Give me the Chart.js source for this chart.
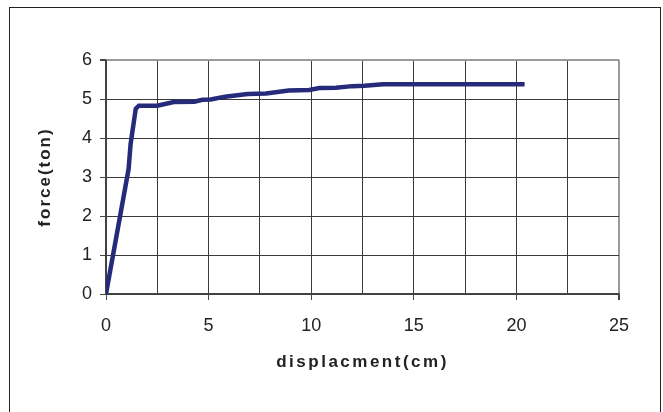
<!DOCTYPE html>
<html>
<head>
<meta charset="utf-8">
<script src="https://cdn.jsdelivr.net/npm/chart.js@4/dist/chart.umd.min.js"></script>
<style>
  html, body { margin: 0; padding: 0; background: #fff; overflow: hidden; }
  #frame { position: absolute; left: 9px; top: 7px; width: 650px; height: 430px; border: 1.5px solid #222; }
  #summaryChart { position: absolute; left: 0; top: 0; }
</style>
</head>
<body>
<div id="frame"></div>
<canvas id="summaryChart" width="663" height="412"></canvas>
<script>
// datos
const dispCm = [0, 1.1, 1.2, 1.45, 1.6, 2.5, 3.3, 4.3, 4.7, 5.1, 5.8, 6.9, 7.8, 8.9, 9.9, 10.4, 11.2, 12.0, 12.6, 13.5, 20.4];
const forceTon = [0, 3.2, 3.85, 4.75, 4.83, 4.83, 4.92, 4.93, 4.98, 4.99, 5.06, 5.13, 5.14, 5.22, 5.23, 5.28, 5.29, 5.33, 5.34, 5.38, 5.38];
const xTicks = [0, 5, 10, 15, 20, 25];
const yTicks = [0, 1, 2, 3, 4, 5, 6];

const tickFont = { family: 'Liberation Sans', size: 18 };
const titleFont = { family: 'Liberation Sans', size: 17, weight: 'bold' };

// espaciado de letras solo para los titulos de los ejes (estilo Excel)
const titleSpacing = {
    id: 'titleSpacing',
    beforeDraw(chart) {
        const gaps = { x: '2.5px', y: '2px' };
        Object.keys(gaps).forEach(id => {
            const s = chart.scales[id];
            if (!s || s._spaced) return;
            const orig = s.drawTitle.bind(s);
            s.drawTitle = function () {
                const c = this.ctx;
                const prev = c.letterSpacing;
                c.letterSpacing = gaps[id];
                orig();
                c.letterSpacing = prev || '0px';
            };
            s._spaced = true;
        });
    }
};

const ctx = document.getElementById('summaryChart').getContext('2d');
new Chart(ctx, {
    type: 'line',
    data: {
        datasets: [{
            label: 'force',
            data: dispCm.map((d, i) => ({ x: d, y: forceTon[i] })),
            borderColor: '#262a7a',
            borderWidth: 4.5,
            pointRadius: 0,
            tension: 0,
            fill: false
        }]
    },
    options: {
        responsive: false,
        animation: false,
        layout: { padding: { left: 28, top: 60, right: 44, bottom: 30 } },
        plugins: { legend: { display: false }, tooltip: { enabled: false } },
        scales: {
            x: {
                type: 'linear',
                min: xTicks[0],
                max: xTicks[xTicks.length - 1],
                afterFit: (s) => { s.height = 412 - 294 - 30; s.paddingLeft = 0; s.paddingRight = 0; },
                ticks: {
                    stepSize: 2.5,
                    color: '#222',
                    font: tickFont,
                    padding: 15,
                    maxRotation: 0,
                    autoSkip: false,
                    callback: (v) => xTicks.includes(v) ? String(v) : ''
                },
                grid: {
                    color: (c) => c.tick && c.tick.value === 25 ? '#9a9a9a' : '#3a3a3a',
                    lineWidth: (c) => c.tick && c.tick.value === 25 ? 2 : 1,
                    tickLength: 6,
                    tickColor: (c) => c.tick && c.tick.value % 5 === 0 ? '#444' : 'rgba(0,0,0,0)'
                },
                border: { color: '#444', width: 1.5 },
                title: {
                    display: true,
                    text: 'displacment(cm)',
                    color: '#222',
                    font: titleFont,
                    padding: { top: 0, bottom: 9 }
                }
            },
            y: {
                min: yTicks[0],
                max: yTicks[yTicks.length - 1],
                afterFit: (s) => { s.width = 106 - 28; s.paddingTop = 0; s.paddingBottom = 0; },
                ticks: {
                    stepSize: 1,
                    color: '#222',
                    font: tickFont,
                    padding: 8
                },
                grid: {
                    color: (c) => c.tick && c.tick.value === 6 ? '#9a9a9a' : '#3a3a3a',
                    lineWidth: (c) => c.tick && c.tick.value === 6 ? 2 : 1,
                    tickLength: 6,
                    tickColor: '#444'
                },
                border: { color: '#444', width: 1.5 },
                title: {
                    display: true,
                    text: 'force(ton)',
                    color: '#222',
                    font: titleFont,
                    padding: { top: 7, bottom: 0 }
                }
            }
        }
    },
    plugins: [titleSpacing]
});
</script>
</body>
</html>
